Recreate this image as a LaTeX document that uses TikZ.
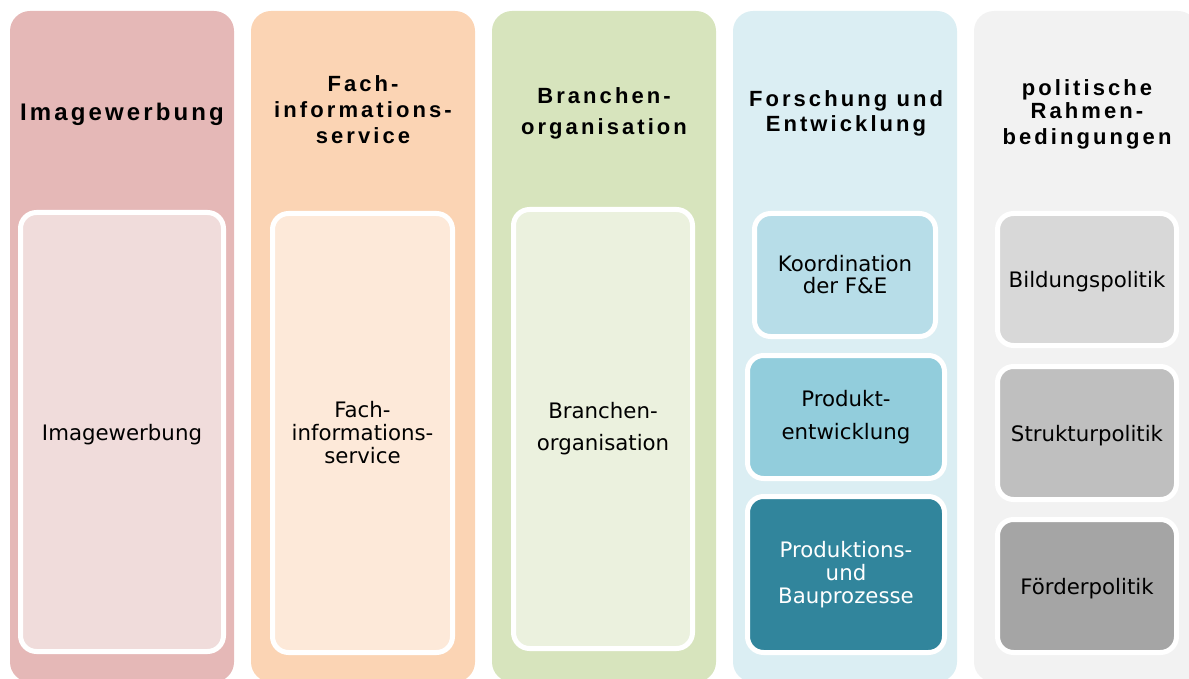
\documentclass[tikz,border=0pt]{standalone}
\usepackage{fontspec}
\usepackage{xcolor}
\usepackage{tikz}
\usetikzlibrary{positioning}

\newfontfamily\headfont{Liberation Sans}[LetterSpace=14]
\newfontfamily\bodyfont{DejaVu Sans}

\definecolor{imgback}{HTML}{E5B8B7}
\definecolor{imgfill}{HTML}{F0DCDB}
\definecolor{infoback}{HTML}{FBD4B4}
\definecolor{infofill}{HTML}{FDE9D9}
\definecolor{orgback}{HTML}{D7E4BD}
\definecolor{orgfill}{HTML}{EBF1DE}
\definecolor{fueback}{HTML}{DBEEF3}
\definecolor{fuefillA}{HTML}{B7DDE8}
\definecolor{fuefillB}{HTML}{92CDDC}
\definecolor{fuefillC}{HTML}{31859C}
\definecolor{polback}{HTML}{F2F2F2}
\definecolor{polfillA}{HTML}{D8D8D8}
\definecolor{polfillB}{HTML}{BFBFBF}
\definecolor{polfillC}{HTML}{A5A5A5}

\begin{document}
\begin{tikzpicture}[x=1pt, y=-1pt, node distance=17pt,
	lanebox/.style={rectangle, rounded corners=20pt, minimum width=224pt, minimum height=671pt, outer sep=0pt},
	cellbox/.style={rectangle, draw=white, line width=5pt, rounded corners=16pt, align=center, inner sep=0pt, font=\fontsize{21.3pt}{23pt}\bodyfont},
	headtext/.style={anchor=base, align=center, inner sep=0pt, font=\fontsize{22pt}{25pt}\headfont\bfseries}]
	\useasboundingbox (0,0) rectangle (1189,679);
	\clip (0,0) rectangle (1189,679);

	% the five lanes
	\node[lanebox, fill=imgback] (lane1) at (122,346.5) {};
	\node[lanebox, fill=infoback, right=of lane1] (lane2) {};
	\node[lanebox, fill=orgback, right=of lane2] (lane3) {};
	\node[lanebox, fill=fueback, right=of lane3] (lane4) {};
	\node[lanebox, fill=polback, right=of lane4] (lane5) {};

	% lane titles (base = last line)
	\node[headtext, font=\fontsize{24pt}{28pt}\headfont\bfseries\addfontfeatures{LetterSpace=13}] (head1) at (122,121) {Imagewerbung};
	\node[headtext] (head2) at (363,144) {Fach-\\[1pt]informations-\\[1pt]service};
	\node[headtext] (head3) at (604,135) {Branchen-\\[6pt]organisation};
	\node[headtext] (head4) at (846,132) {Forschung und\\Entwicklung};
	\node[headtext] (head5) at (1087,145) {politische\\[-2pt]Rahmen-\\[1pt]bedingungen};

	% boxes inside the lanes
	\node[cellbox, fill=imgfill, minimum width=203pt, minimum height=439pt, text depth=0pt] (img) at (122,432) {Imagewerbung};
	\node[cellbox, fill=infofill, minimum width=180pt, minimum height=439pt] (info) at (362.5,433) {Fach-\\informations-\\service};
	\node[cellbox, fill=orgfill, minimum width=179pt, minimum height=439pt] (org) at (603,429) {Branchen-\\[9pt]organisation};

	\node[cellbox, fill=fuefillA, minimum width=181pt, minimum height=123pt] (koord) at (845,275) {Koordination\\[-1pt]der F\&E};
	\node[cellbox, fill=fuefillB, minimum width=197pt, minimum height=123pt] (prod) at (846,417) {Produkt-\\[10pt]entwicklung};
	\node[cellbox, fill=fuefillC, text=white, minimum width=197pt, minimum height=156pt] (bau) at (846,574.5) {Produktions-\\und\\Bauprozesse};

	\node[cellbox, fill=polfillA, minimum width=179pt, minimum height=132pt, text depth=0pt] (bild) at (1087,279.5) {Bildungspolitik};
	\node[cellbox, fill=polfillB, minimum width=179pt, minimum height=133pt, text depth=0pt] (struk) at (1087,433) {Strukturpolitik};
	\node[cellbox, fill=polfillC, minimum width=179pt, minimum height=133pt, text depth=0pt] (foerd) at (1087,586) {Förderpolitik};
\end{tikzpicture}
\end{document}
